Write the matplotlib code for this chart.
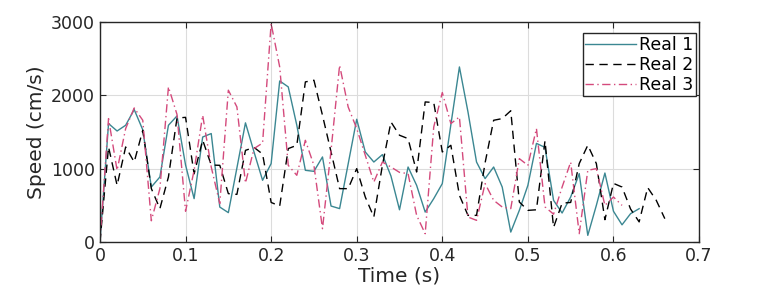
import matplotlib
matplotlib.use('Agg')
import matplotlib.pyplot as plt
import numpy as np

# speed samples every 0.01 s
step = 0.01
real1 = [0, 1615, 1514, 1592, 1806, 1530, 750, 887, 1592, 1719,
         1050, 592, 1432, 1479, 477, 401, 1010, 1625, 1228, 842,
         1070, 2196, 2115, 1592, 978, 964, 1160, 491, 456, 1065,
         1674, 1228, 1091, 1192, 900, 440, 1023, 773, 409, 592,
         797, 1600, 2387, 1774, 1091, 865, 1023, 750, 136, 432,
         773, 1345, 1290, 569, 396, 614, 933, 91, 500, 941,
         420, 235, 387, 455]
real2 = [0, 1296, 773, 1296, 1091, 1524, 730, 455, 887, 1690,
         1700, 930, 1390, 1050, 1046, 660, 650, 1250, 1290, 1200,
         540, 491, 1274, 1319, 2183, 2206, 1728, 1228, 728, 728,
         1001, 614, 341, 1046, 1637, 1456, 1410, 955, 1910, 1902,
         1228, 1319, 637, 364, 364, 1080, 1660, 1683, 1790, 546,
         432, 440, 1380, 200, 530, 540, 1070, 1320, 1070, 305,
         800, 750, 450, 275, 742, 569, 319]
real3 = [0, 1683, 978, 1547, 1828, 1660, 290, 728, 2115, 1740,
         420, 978, 1728, 1023, 524, 2070, 1842, 805, 1274, 1350,
         2979, 2387, 1046, 910, 1387, 1046, 182, 1251, 2410, 1842,
         1547, 1183, 818, 1091, 1023, 950, 933, 364, 114, 1569,
         2038, 1615, 1705, 341, 296, 797, 569, 478, 456, 1137,
         1046, 1547, 480, 380, 750, 1090, 114, 978, 1001, 500,
         614, 500]
labels = ['Real 1', 'Real 2', 'Real 3']

t1 = np.arange(len(real1)) * step
t2 = np.arange(len(real2)) * step
t3 = np.arange(len(real3)) * step

fig = plt.figure(figsize=(7.72, 2.97), dpi=100)
ax = fig.add_axes([0.1295, 0.185, 0.776, 0.741])

ax.plot(t1, real1, color='#3b8792', lw=1.0, label=labels[0])
ax.plot(t2, real2, color='black', lw=1.0, ls=(0, (6, 4)), label=labels[1])
ax.plot(t3, real3, color='#d44a7c', lw=1.0, ls=(0, (6, 2.5, 1, 2.5)), label=labels[2])

ax.set_xlim(0, 0.7)
ax.set_ylim(0, 3000)
ax.set_xticks(np.arange(0, 0.71, 0.1))
ax.set_yticks([0, 1000, 2000, 3000])
ax.set_xticklabels(['0', '0.1', '0.2', '0.3', '0.4', '0.5', '0.6', '0.7'])
ax.grid(True, color='#dcdcdc', lw=0.8)
ax.set_axisbelow(True)
ax.tick_params(direction='in', top=True, right=True, labelsize=12.5, length=4, color='#262626',
               labelcolor='#262626')
for s in ax.spines.values():
    s.set_color('#262626')
    s.set_linewidth(1.0)

ax.set_xlabel('Time (s)', fontsize=14.5, color='#262626', labelpad=1)
ax.set_ylabel('Speed (cm/s)', fontsize=14.5, color='#262626', labelpad=4)

leg = ax.legend(loc='upper right', bbox_to_anchor=(0.995, 0.95), fontsize=12.5, fancybox=False,
                framealpha=1, edgecolor='#262626', borderpad=0.15, labelspacing=0.12,
                handlelength=2.9, handletextpad=0.2, borderaxespad=0)
leg.get_frame().set_linewidth(1.0)

fig.savefig('out.png', dpi=100)
